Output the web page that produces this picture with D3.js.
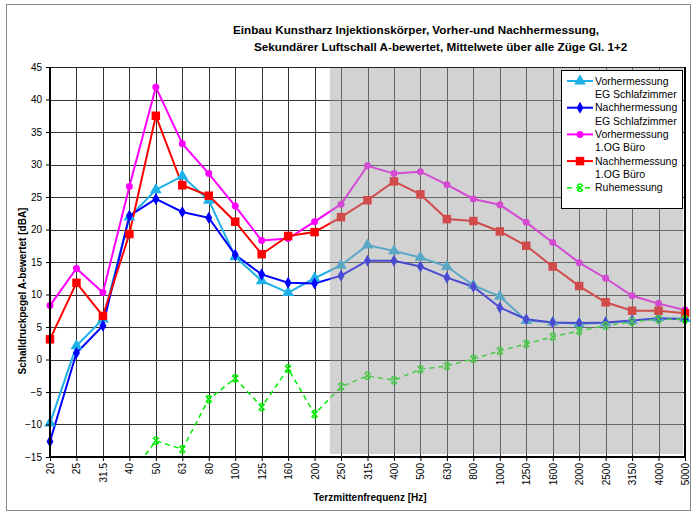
<!DOCTYPE html>
<meta charset="utf-8">
<head>
  <title>Sekundärer Luftschall</title>
</head>

<style>
body {
  margin: 0;
  font-family: "Liberation Sans", Arial, sans-serif;
  background: #fff;
}
</style>

<body>
  <div id="content"></div>

  <script src="https://cdnjs.cloudflare.com/ajax/libs/d3/7.8.5/d3.min.js"></script>

  <script>
var freqs = ["20", "25", "31.5", "40", "50", "63", "80", "100", "125", "160", "200", "250", "315", "400", "500",
  "630", "800", "1000", "1250", "1600", "2000", "2500", "3150", "4000", "5000"];
var yTicks = [-15, -10, -5, 0, 5, 10, 15, 20, 25, 30, 35, 40, 45];

var vorherEG = [-9.8, 2.1, 6.2, 21.9, 26.1, 28.2, 24.5, 15.8, 12.1, 10.3, 12.5, 14.5, 17.6, 16.7, 15.7,
  14.3, 11.4, 9.7, 6.0, 5.7, 5.5, 5.6, 6.0, 6.4, 6.3];
var nachherEG = [-12.6, 1.0, 5.2, 22.1, 24.7, 22.7, 21.8, 16.1, 13.1, 11.8, 11.7, 12.9, 15.2, 15.2, 14.3,
  12.6, 11.2, 8.0, 6.2, 5.7, 5.6, 5.7, 6.0, 6.3, 6.2];
var vorherOG = [8.3, 14.0, 10.3, 26.6, 41.9, 33.2, 28.6, 23.6, 18.3, 18.6, 21.2, 23.9, 29.8, 28.6, 28.9,
  26.9, 24.7, 23.8, 21.1, 18.0, 14.9, 12.5, 9.8, 8.6, 7.6];
var nachherOG = [3.1, 11.8, 6.7, 19.3, 37.5, 26.8, 25.2, 21.2, 16.2, 19.0, 19.6, 21.9, 24.5, 27.4, 25.4,
  21.6, 21.3, 19.7, 17.5, 14.3, 11.3, 8.8, 7.5, 7.5, 7.1];
var ruhe = [null, null, null, -18, -12.5, -13.8, -6.1, -2.9, -7.3, -1.4, -8.4, -4.2, -2.5, -3.2, -1.5,
  -1.0, 0.1, 1.3, 2.4, 3.5, 4.4, 5.2, 5.8, 6.2, 6.2];

var series = [
  {name: ["Vorhermessung", "EG Schlafzimmer"], values: vorherEG, color: "#1eb0e6", marker: "triangle"},
  {name: ["Nachhermessung", "EG Schlafzimmer"], values: nachherEG, color: "#0000ff", marker: "diamond"},
  {name: ["Vorhermessung", "1.OG Büro"], values: vorherOG, color: "#ff00ff", marker: "circle"},
  {name: ["Nachhermessung", "1.OG Büro"], values: nachherOG, color: "#ff0000", marker: "square"},
  {name: ["Ruhemessung"], values: ruhe, color: "#00ee00", marker: "star", dashed: true}
];

var width = 695, height = 515;
var plotLeft = 50, plotRight = 685, plotTop = 67, plotBottom = 457;

var svg = d3.select("#content").append("svg")
  .attr("width", width)
  .attr("height", height)
  .style("display", "block");

// chart frame
svg.append("rect")
  .attr("x", 6.5).attr("y", 4.5)
  .attr("width", 684).attr("height", 506)
  .attr("fill", "#fff")
  .attr("stroke", "#888");

var x = d3.scalePoint().domain(freqs).range([plotLeft, plotRight]);
var y = d3.scaleLinear().domain([-15, 45]).range([plotBottom, plotTop]);

svg.append("clipPath").attr("id", "plot")
  .append("rect").attr("x", plotLeft).attr("y", plotTop)
  .attr("width", plotRight - plotLeft).attr("height", plotBottom - plotTop);

// gridlines
var grid = svg.append("g").attr("stroke", "#333").attr("stroke-width", 1);
grid.selectAll(".h").data(yTicks).enter().append("line")
  .attr("x1", plotLeft).attr("x2", plotRight)
  .attr("y1", function(d) { return Math.round(y(d)) + 0.5; })
  .attr("y2", function(d) { return Math.round(y(d)) + 0.5; });
grid.selectAll(".v").data(freqs).enter().append("line")
  .attr("y1", plotTop).attr("y2", plotBottom)
  .attr("x1", function(d) { return Math.round(x(d)) + 0.5; })
  .attr("x2", function(d) { return Math.round(x(d)) + 0.5; });

// markers
var symbols = {
  triangle: d3.symbol().type(d3.symbolTriangle).size(60),
  diamond: d3.symbol().type(d3.symbolDiamond).size(42),
  circle: d3.symbol().type(d3.symbolCircle).size(38),
  square: d3.symbol().type(d3.symbolSquare).size(72),
  star: function() { return "M-3,-3L3,3M-3,3L3,-3M-2,-3.5H2M-2,3.5H2"; }
};

function drawMarker(g, s, px, py) {
  var m = g.append("path")
    .attr("d", symbols[s.marker]())
    .attr("transform", "translate(" + px + "," + py + ")");
  if (s.marker == "star") {
    m.attr("fill", "none").attr("stroke", s.color).attr("stroke-width", 1.5);
  } else {
    m.attr("fill", s.color);
  }
}

var lines = svg.append("g").attr("clip-path", "url(#plot)");
var marks = svg.append("g");
var line = d3.line()
  .defined(function(d) { return d != null; })
  .x(function(d, i) { return x(freqs[i]); })
  .y(function(d) { return y(d); });

series.forEach(function(s) {
  lines.append("path")
    .attr("d", line(s.values))
    .attr("fill", "none")
    .attr("stroke", s.color)
    .attr("stroke-width", s.dashed ? 1.5 : 2)
    .attr("stroke-dasharray", s.dashed ? "5,4" : null);
});
series.forEach(function(s) {
  s.values.forEach(function(v, i) {
    if (v == null || v < -15 || v > 45) return;
    drawMarker(marks, s, x(freqs[i]), y(v));
  });
});

// shaded range from 250 Hz up
var shadeX = (x("200") + x("250")) / 2 + 2;
svg.append("rect")
  .attr("x", shadeX).attr("y", plotTop)
  .attr("width", plotRight - 2 - shadeX).attr("height", plotBottom - 3 - plotTop)
  .attr("fill", "#a0a0a0")
  .attr("fill-opacity", 0.47);

// axes
svg.append("path")
  .attr("d", "M" + plotRight + "," + (plotTop + 0.5) + "H" + plotLeft)
  .attr("stroke", "#222").attr("fill", "none");
svg.append("path")
  .attr("d", "M" + plotRight + "," + plotTop + "V" + plotBottom)
  .attr("stroke", "#000").attr("stroke-width", 2).attr("fill", "none");
svg.append("path")
  .attr("d", "M" + plotLeft + "," + plotTop + "V" + plotBottom + "H" + plotRight)
  .attr("stroke", "#000").attr("stroke-width", 2).attr("fill", "none");

var yAxis = svg.append("g")
  .attr("transform", "translate(" + plotLeft + ",0)")
  .call(d3.axisLeft(y).tickValues(yTicks).tickSize(4).tickPadding(4));
yAxis.select(".domain").remove();
yAxis.selectAll("text").style("font-size", "10px").attr("fill", "#000")
  .style("font-family", "'Liberation Sans', Arial, sans-serif");

var xAxis = svg.append("g")
  .attr("transform", "translate(0," + plotBottom + ")")
  .call(d3.axisBottom(x).tickSize(4));
xAxis.select(".domain").remove();
xAxis.selectAll("text")
  .style("font-size", "10px")
  .style("font-family", "'Liberation Sans', Arial, sans-serif")
  .attr("fill", "#000")
  .attr("text-anchor", "end")
  .attr("transform", "rotate(-90)")
  .attr("x", -6)
  .attr("y", 0)
  .attr("dy", "0.35em");

// titles
var title = svg.append("g")
  .style("font-size", "11.7px").style("font-weight", "bold");
title.append("text").attr("x", 233).attr("y", 34).text("Einbau Kunstharz Injektionskörper, Vorher-und Nachhermessung,");
title.append("text").attr("x", 254).attr("y", 51).text("Sekundärer Luftschall A-bewertet, Mittelwete über alle Züge Gl. 1+2");

svg.append("text")
  .attr("x", 370).attr("y", 501)
  .attr("text-anchor", "middle")
  .style("font-size", "10px").style("font-weight", "bold")
  .text("Terzmittenfrequenz [Hz]");

svg.append("text")
  .attr("transform", "translate(26,291) rotate(-90)")
  .attr("text-anchor", "middle")
  .style("font-size", "10px").style("font-weight", "bold")
  .text("Schalldruckpegel A-bewertet [dBA]");

// legend
var legend = svg.append("g");
legend.append("rect")
  .attr("x", 561.5).attr("y", 70.5)
  .attr("width", 121).attr("height", 138)
  .attr("fill", "#fff").attr("stroke", "#000");

series.forEach(function(s, i) {
  var ly = 81 + i * 26.7;
  var g = legend.append("g");
  g.append("line")
    .attr("x1", 567).attr("x2", 593).attr("y1", ly).attr("y2", ly)
    .attr("stroke", s.color)
    .attr("stroke-width", s.dashed ? 1.5 : 2)
    .attr("stroke-dasharray", s.dashed ? "5,4" : null);
  drawMarker(g, s, 580, ly);
  s.name.forEach(function(t, j) {
    g.append("text")
      .attr("x", 595).attr("y", ly + j * 13.3)
      .attr("dy", "0.35em")
      .style("font-size", "10.5px")
      .text(t);
  });
});
  </script>
</body>
</html>
